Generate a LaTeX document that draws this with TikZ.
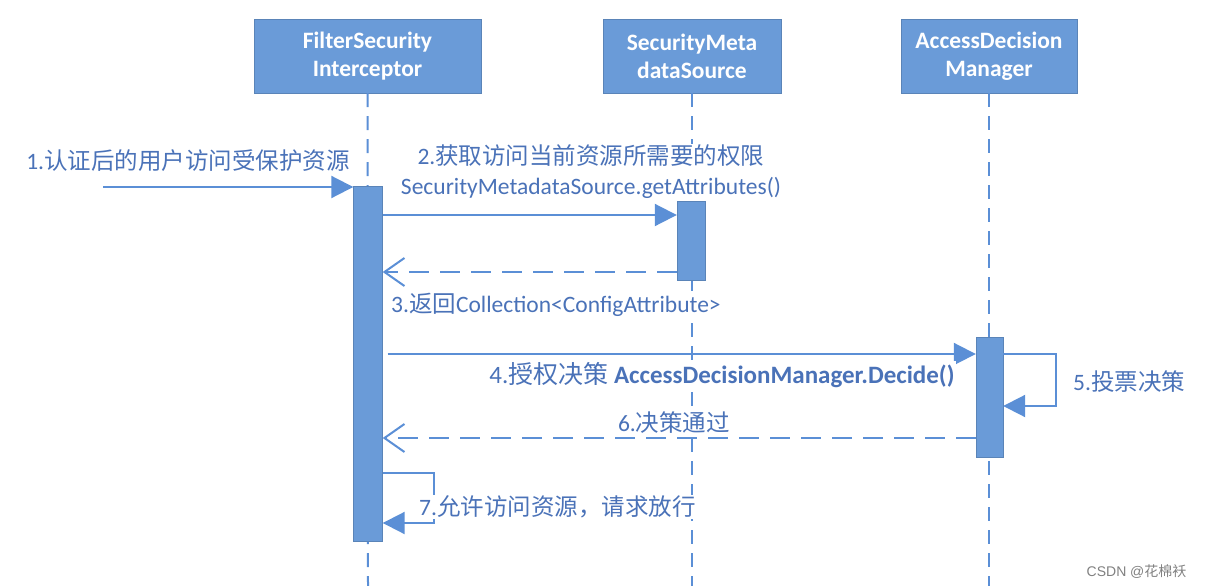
\documentclass[tikz,border=0pt]{standalone}
\usepackage{fontspec}
\setmainfont{Carlito}
\newfontfamily\cjk{Noto Sans CJK SC}
\newfontfamily\wmfont{Liberation Sans}
\usetikzlibrary{arrows.meta}
\definecolor{boxblue}{HTML}{6A9BD8}
\definecolor{lineblue}{HTML}{5B8FD6}
\definecolor{textblue}{HTML}{4A72B8}
\begin{document}
\begin{tikzpicture}[x=1pt,y=-1pt,
	every node/.style={font=\fontsize{23.5}{30}\selectfont},
	lifebox/.style={fill=boxblue,draw=boxblue!85!black,text=white,align=center,
		font=\fontsize{23.5}{28}\selectfont\bfseries,minimum height=74pt,inner sep=0pt},
	bar/.style={fill=boxblue,draw=boxblue!85!black,inner sep=0pt},
	lifeline/.style={lineblue,line width=2pt,dash pattern=on 14pt off 9pt},
	msg/.style={lineblue,line width=2pt,-{Triangle[length=22pt,width=22pt]}},
	ret/.style={lineblue,line width=2pt,dash pattern=on 20pt off 11pt,
		-{Straight Barb[length=20pt,width=28pt,line width=2pt]}},
	lbl/.style={text=textblue,fill=white,inner sep=1pt}]
	\useasboundingbox (0,0) rectangle (1205,586);
	\node[lifebox,minimum width=227pt] (fsi) at (367.5,56) {FilterSecurity\\Interceptor};
	\node[lifebox,minimum width=178pt] (sms) at (692,56) {SecurityMeta\\dataSource};
	\node[lifebox,minimum width=176pt] (adm) at (989,56) {AccessDecision\\Manager};
	\coordinate (fsiend) at (368,586);
	\coordinate (smsend) at (692,586);
	\coordinate (admend) at (989,586);
	\draw[lifeline] (fsi.south) -- (fsiend);
	\draw[lifeline] (sms.south) -- (smsend);
	\draw[lifeline] (adm.south) -- (admend);
	\node[bar,minimum width=29pt,minimum height=355pt] (fsibar) at (368,363.5) {};
	\node[bar,minimum width=28pt,minimum height=79pt] (smsbar) at (691,240.5) {};
	\node[bar,minimum width=27pt,minimum height=120pt] (admbar) at (989.5,397) {};
	\coordinate (user) at (103,187);
	\draw[msg] (user) -- (fsibar.west |- user);
	\node[lbl] (m1) at (188,161) {1.{\cjk 认证后的用户访问受保护资源}};
	\draw[msg] (fsibar.east |- 0,215) -- (smsbar.west |- 0,215);
	\node[lbl,align=center] (m2) at (591,172) {2.{\cjk 获取访问当前资源所需要的权限}\\SecurityMetadataSource.getAttributes()};
	\draw[ret] (smsbar.west |- 0,272) -- (fsibar.east |- 0,272);
	\node[lbl,anchor=west] (m3) at (390,305) {3.{\cjk 返回}Collection<ConfigAttribute>};
	\draw[msg] ([xshift=5pt]fsibar.east |- 0,354) -- (admbar.west |- 0,354);
	\node[lbl,font=\fontsize{25}{30}\selectfont] (m4) at (722,375) {4.{\cjk 授权决策} \textbf{AccessDecisionManager.Decide()}};
	\draw[msg] (admbar.east |- 0,354) -| (1056,406) -- (admbar.east |- 0,406);
	\node[lbl,anchor=west] (m5) at (1072,382) {5.{\cjk 投票决策}};
	\draw[ret] (admbar.west |- 0,438) -- (fsibar.east |- 0,438);
	\node[lbl] (m6) at (674,423) {6.{\cjk 决策通过}};
	\draw[msg] (fsibar.east |- 0,473) -| (434,523) -- (fsibar.east |- 0,523);
	\node[lbl,anchor=west] (m7) at (418,507) {7.{\cjk 允许访问资源，请求放行}};
	\node[text=gray,font=\fontsize{14}{16}\selectfont\wmfont,anchor=east] (wm) at (1190,572) {CSDN @{\cjk 花棉袄}};
\end{tikzpicture}
\end{document}
